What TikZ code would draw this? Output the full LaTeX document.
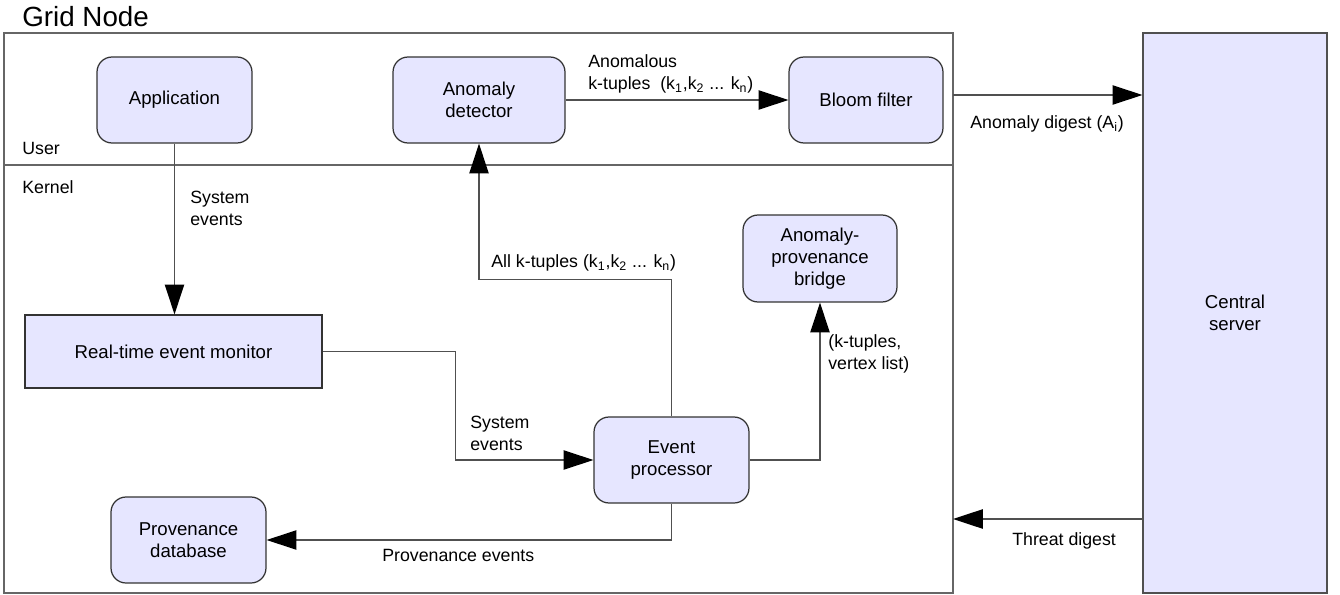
\documentclass[tikz,border=0pt]{standalone}
\usepackage{fontspec}
\setmainfont{Liberation Sans}
\usetikzlibrary{arrows.meta}
\usetikzlibrary{positioning}

\definecolor{boxfill}{HTML}{E6E6FF}
\definecolor{boxline}{HTML}{333333}
\definecolor{wire}{HTML}{505050}
\definecolor{frame}{HTML}{666666}

\begin{document}
\begin{tikzpicture}[x=0.02cm,y=-0.02cm,
        >={Triangle[length=17pt,width=11pt,color=black]},
        block/.style={draw=boxline,fill=boxfill,line width=0.7pt,rounded corners=0.3cm,
            minimum width=3.1cm,minimum height=1.72cm,align=center,inner sep=0pt,
            font=\fontsize{10.6}{12.6}\selectfont},
        flatblock/.style={block,sharp corners},
        flow/.style={->,draw=wire,line width=0.8pt},
        lbl/.style={anchor=west,align=left,inner sep=0pt,font=\fontsize{10.1}{12.4}\selectfont}]

        \useasboundingbox (0,0) rectangle (1340,595);

        % Grid node frame and layers
        \node[lbl,font=\fontsize{15.8}{18}\selectfont] (title) at (22,17) {Grid Node};
        \draw[frame,line width=0.8pt] (4,33) rectangle (953,593);
        \draw[frame,line width=0.8pt] (4,165) -- (953,165);
        \node[lbl] (user) at (22,148) {User};
        \node[lbl] (kernel) at (22,187) {Kernel};

        % User space
        \node[block] (app) at (174.5,100) {Application};
        \node[block,minimum width=3.44cm] (detector) at (479,100) {Anomaly\\detector};
        \node[block,minimum width=3.08cm] (bloom) at (866,100) {Bloom filter};

        % Kernel space
        \node[flatblock,minimum width=5.94cm,minimum height=1.46cm] (monitor) at (173.5,351.5) {Real-time event monitor};
        \node[block,minimum width=3.08cm,minimum height=1.74cm] (bridge) at (820,258.5) {Anomaly-\\provenance\\bridge};
        \node[block] (processor) at (671.5,460) {Event\\processor};
        \node[block] (provdb) at (188.5,540) {Provenance\\database};

        % Central server
        \node[flatblock,draw=wire,minimum width=3.68cm,minimum height=11.2cm] (server) at (1235,313) {Central\\server};
        \coordinate (digestout) at (953,95);
        \coordinate (digestin) at (953,519);

        % Connectors
        \draw[flow] (app.south) -- (app.south |- monitor.north);
        \draw[flow] (detector.east) -- (bloom.west);
        \draw[flow] (monitor.east) -- ++(133,0) |- (processor.west);
        \draw[flow] (processor.north) -- ++(0,-137) -| (detector.south);
        \draw[flow] (processor.east) -| (bridge.south);
        \draw[flow] (processor.south) |- (provdb.east);
        \draw[flow] (digestout) -- (digestout -| server.west);
        \draw[flow] (digestin -| server.west) -- (digestin);

        % Connector labels
        \node[lbl] (syslbl) at (190,208) {System\\events};
        \node[lbl] (anomlbl) at (588,74) {Anomalous\\k-tuples\ \ (k\textsubscript{1},k\textsubscript{2} ... k\textsubscript{n})};
        \node[lbl] (alllbl) at (491,263) {All k-tuples (k\textsubscript{1},k\textsubscript{2} ... k\textsubscript{n})};
        \node[lbl] (vertlbl) at (828,354) {(k-tuples,\\vertex list)};
        \node[lbl] (sys2lbl) at (470,433) {System\\events};
        \node[lbl] (provlbl) at (382,555) {Provenance events};
        \node[lbl] (digestlbl) at (970,124) {Anomaly digest (A\textsubscript{i})};
        \node[lbl] (threatlbl) at (1012,541) {Threat digest};

\end{tikzpicture}
\end{document}
